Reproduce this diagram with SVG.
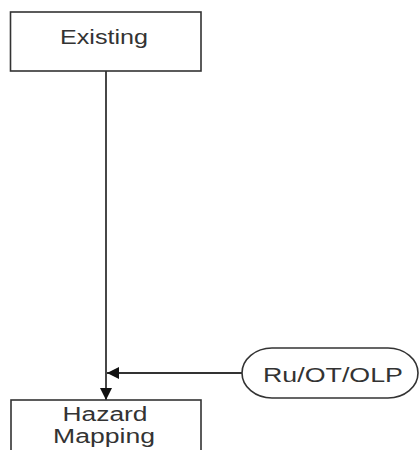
<svg xmlns="http://www.w3.org/2000/svg" width="419" height="450" viewBox="0 0 419 450">
<style>
.box{fill:#fff;stroke:#333;stroke-width:1.6}
.ln{fill:none;stroke:#333;stroke-width:1.8}
.t{font-family:"Liberation Sans",Arial,sans-serif;font-size:20px;fill:#333;text-anchor:middle}
</style>
<defs>
<marker id="ah" viewBox="0 0 12 12" refX="12" refY="6" markerWidth="12" markerHeight="12" markerUnits="userSpaceOnUse" orient="auto">
<path d="M0,0 L12,6 L0,12 Z" fill="#111"/>
</marker>
</defs>
<g id="connectors">
<line class="ln" x1="106" y1="71" x2="106" y2="400" marker-end="url(#ah)"/>
<line class="ln" x1="242" y1="373" x2="107" y2="373" marker-end="url(#ah)"/>
</g>
<g id="existing">
<rect class="box" x="10.5" y="12" width="190.5" height="59"/>
<text class="t" x="104" y="44" textLength="88" lengthAdjust="spacingAndGlyphs">Existing</text>
</g>
<g id="hazard">
<rect class="box" x="11" y="400" width="190" height="70"/>
<text class="t" x="105" y="421" textLength="85" lengthAdjust="spacingAndGlyphs">Hazard</text>
<text class="t" x="104" y="443" textLength="102" lengthAdjust="spacingAndGlyphs">Mapping</text>
</g>
<g id="ruotolp">
<rect class="box" x="242" y="348" width="176" height="50" rx="30" ry="25"/>
<text class="t" x="333" y="382" textLength="140" lengthAdjust="spacingAndGlyphs">Ru/OT/OLP</text>
</g>
</svg>
